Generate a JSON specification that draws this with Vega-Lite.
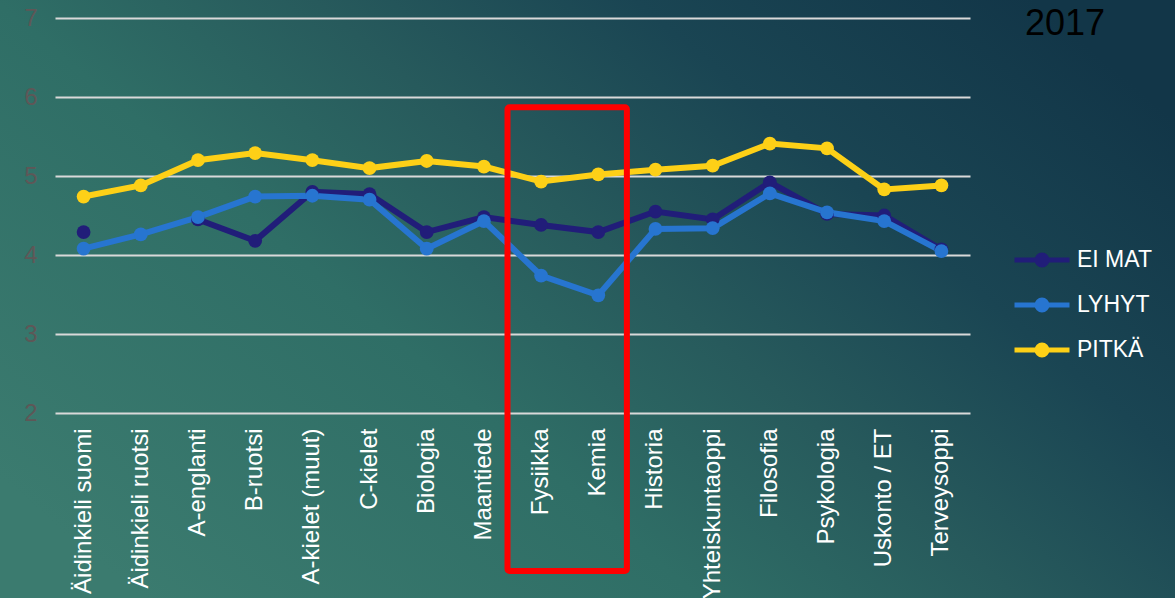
{
  "$schema": "https://vega.github.io/schema/vega-lite/v6.json",
  "width": 1175,
  "height": 598,
  "autosize": {"type": "none"},
  "padding": 0,
  "background": "#245357",
  "title": {
    "text": "2017",
    "anchor": "end",
    "frame": "group",
    "orient": "top",
    "offset": 0,
    "dx": -70,
    "dy": 71,
    "baseline": "alphabetic",
    "fontSize": 36,
    "fontWeight": "normal",
    "color": "#000000",
    "font": "Liberation Sans"
  },
  "datasets": {
    "scores": [
      {"subject": "Äidinkieli suomi", "group": "EI MAT", "value": 4.29},
      {"subject": "Äidinkieli ruotsi", "group": "EI MAT", "value": null},
      {"subject": "A-englanti", "group": "EI MAT", "value": 4.45},
      {"subject": "B-ruotsi", "group": "EI MAT", "value": 4.18},
      {"subject": "A-kielet (muut)", "group": "EI MAT", "value": 4.8},
      {"subject": "C-kielet", "group": "EI MAT", "value": 4.77},
      {"subject": "Biologia", "group": "EI MAT", "value": 4.29},
      {"subject": "Maantiede", "group": "EI MAT", "value": 4.48},
      {"subject": "Fysiikka", "group": "EI MAT", "value": 4.38},
      {"subject": "Kemia", "group": "EI MAT", "value": 4.29},
      {"subject": "Historia", "group": "EI MAT", "value": 4.55},
      {"subject": "Yhteiskuntaoppi", "group": "EI MAT", "value": 4.45},
      {"subject": "Filosofia", "group": "EI MAT", "value": 4.92},
      {"subject": "Psykologia", "group": "EI MAT", "value": 4.52},
      {"subject": "Uskonto / ET", "group": "EI MAT", "value": 4.5},
      {"subject": "Terveysoppi", "group": "EI MAT", "value": 4.07},
      {"subject": "Äidinkieli suomi", "group": "LYHYT", "value": 4.08},
      {"subject": "Äidinkieli ruotsi", "group": "LYHYT", "value": 4.26},
      {"subject": "A-englanti", "group": "LYHYT", "value": 4.48},
      {"subject": "B-ruotsi", "group": "LYHYT", "value": 4.74},
      {"subject": "A-kielet (muut)", "group": "LYHYT", "value": 4.75},
      {"subject": "C-kielet", "group": "LYHYT", "value": 4.7},
      {"subject": "Biologia", "group": "LYHYT", "value": 4.08},
      {"subject": "Maantiede", "group": "LYHYT", "value": 4.43},
      {"subject": "Fysiikka", "group": "LYHYT", "value": 3.74},
      {"subject": "Kemia", "group": "LYHYT", "value": 3.49},
      {"subject": "Historia", "group": "LYHYT", "value": 4.33},
      {"subject": "Yhteiskuntaoppi", "group": "LYHYT", "value": 4.34},
      {"subject": "Filosofia", "group": "LYHYT", "value": 4.78},
      {"subject": "Psykologia", "group": "LYHYT", "value": 4.54},
      {"subject": "Uskonto / ET", "group": "LYHYT", "value": 4.43},
      {"subject": "Terveysoppi", "group": "LYHYT", "value": 4.05},
      {"subject": "Äidinkieli suomi", "group": "PITKÄ", "value": 4.74},
      {"subject": "Äidinkieli ruotsi", "group": "PITKÄ", "value": 4.88},
      {"subject": "A-englanti", "group": "PITKÄ", "value": 5.2},
      {"subject": "B-ruotsi", "group": "PITKÄ", "value": 5.29},
      {"subject": "A-kielet (muut)", "group": "PITKÄ", "value": 5.2},
      {"subject": "C-kielet", "group": "PITKÄ", "value": 5.1},
      {"subject": "Biologia", "group": "PITKÄ", "value": 5.19},
      {"subject": "Maantiede", "group": "PITKÄ", "value": 5.12},
      {"subject": "Fysiikka", "group": "PITKÄ", "value": 4.93},
      {"subject": "Kemia", "group": "PITKÄ", "value": 5.02},
      {"subject": "Historia", "group": "PITKÄ", "value": 5.08},
      {"subject": "Yhteiskuntaoppi", "group": "PITKÄ", "value": 5.13},
      {"subject": "Filosofia", "group": "PITKÄ", "value": 5.41},
      {"subject": "Psykologia", "group": "PITKÄ", "value": 5.35},
      {"subject": "Uskonto / ET", "group": "PITKÄ", "value": 4.83},
      {"subject": "Terveysoppi", "group": "PITKÄ", "value": 4.88}
    ],
    "highlight": [
      {"from": "Fysiikka", "to": "Kemia", "top": 5.87, "bottom": 0}
    ]
  },
  "layer": [
    {
      "data": {"name": "scores"},
      "mark": {
        "type": "line",
        "strokeWidth": 6,
        "invalid": "break-paths-filter-domains",
        "point": {"filled": true, "size": 190, "opacity": 1}
      },
      "encoding": {
        "x": {
          "field": "subject",
          "type": "nominal",
          "scale": {
            "type": "band",
            "domain": ["Äidinkieli suomi", "Äidinkieli ruotsi", "A-englanti", "B-ruotsi", "A-kielet (muut)", "C-kielet", "Biologia", "Maantiede", "Fysiikka", "Kemia", "Historia", "Yhteiskuntaoppi", "Filosofia", "Psykologia", "Uskonto / ET", "Terveysoppi"],
            "range": [55, 970],
            "paddingInner": 0,
            "paddingOuter": 0
          },
          "axis": {
            "orient": "bottom",
            "offset": -185,
            "title": null,
            "labelAngle": -90,
            "labelAlign": "right",
            "labelBaseline": "middle",
            "labelPadding": 15,
            "labelFontSize": 24,
            "labelFont": "Liberation Sans",
            "labelColor": "#ffffff",
            "labelLimit": 400,
            "ticks": false,
            "domain": false,
            "grid": false
          }
        },
        "y": {
          "field": "value",
          "type": "quantitative",
          "scale": {"domain": [2, 7], "range": [413, 18], "nice": false, "zero": false},
          "axis": {
            "orient": "left",
            "offset": -37,
            "title": null,
            "values": [2, 3, 4, 5, 6, 7],
            "format": "d",
            "grid": true,
            "gridColor": "#d9d9d9",
            "gridWidth": 2,
            "domain": false,
            "ticks": false,
            "labelPadding": 0,
            "labelAlign": "right",
            "labelBaseline": "middle",
            "labelFontSize": 24,
            "labelFont": "Liberation Sans",
            "labelColor": "#5e5757"
          }
        },
        "color": {
          "field": "group",
          "type": "nominal",
          "scale": {"domain": ["EI MAT", "LYHYT", "PITKÄ"], "range": ["#211d79", "#2775d0", "#fdd017"]},
          "legend": {
            "orient": "none",
            "legendX": 1012,
            "legendY": 230,
            "title": null,
            "padding": 0,
            "symbolType": "M-1,0L1,0M0.18,0A0.18,0.18,0,1,1,-0.18,0A0.18,0.18,0,1,1,0.18,0Z",
            "symbolSize": 3025,
            "symbolStrokeWidth": 5,
            "labelFontSize": 23,
            "labelFont": "Liberation Sans",
            "labelColor": "#ffffff",
            "labelOffset": 5,
            "rowPadding": -18,
            "encode": {
              "symbols": {
                "update": {
                  "fill": {"scale": "color", "field": "value"},
                  "stroke": {"scale": "color", "field": "value"},
                  "opacity": {"value": 1}
                }
              }
            }
          }
        }
      }
    },
    {
      "data": {"name": "highlight"},
      "mark": {
        "type": "rect",
        "fill": null,
        "fillOpacity": 0,
        "stroke": "#ff0000",
        "strokeWidth": 6,
        "cornerRadius": 2,
        "xOffset": -5,
        "clip": false
      },
      "encoding": {
        "x": {"field": "from", "type": "nominal", "bandPosition": 0},
        "x2": {"field": "to", "bandPosition": 1},
        "y": {"field": "top", "type": "quantitative"},
        "y2": {"field": "bottom"}
      }
    }
  ],
  "config": {
    "font": "Liberation Sans",
    "view": {
      "stroke": null,
      "fill": {
        "gradient": "linear",
        "x1": 0, "y1": 0.8, "x2": 1, "y2": 0.2,
        "stops": [
          {"offset": 0, "color": "#3b7b6f"},
          {"offset": 0.35, "color": "#2f6e66"},
          {"offset": 0.55, "color": "#275a5c"},
          {"offset": 0.75, "color": "#1a4553"},
          {"offset": 1, "color": "#123648"}
        ]
      }
    }
  }
}
